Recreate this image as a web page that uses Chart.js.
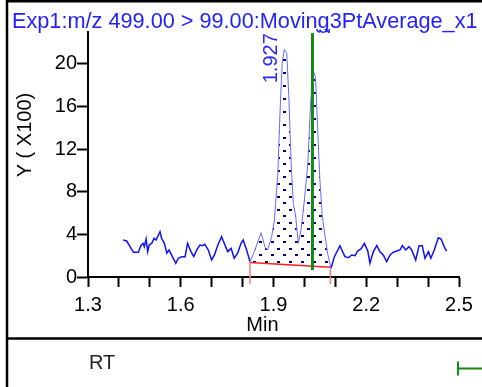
<!DOCTYPE html>
<html>
<head>
<meta charset="utf-8">
<script src="https://cdn.jsdelivr.net/npm/chart.js@4.4.0/dist/chart.umd.min.js"></script>
<style>
  html, body { margin: 0; padding: 0; background: #fff; }
  #wrap { position: relative; width: 482px; height: 387px; overflow: hidden; }
  canvas { display: block; }
</style>
</head>
<body>
<div id="wrap"><canvas id="chart" width="482" height="387"></canvas></div>
<script>
const chartTitle = 'Exp1:m/z 499.00 > 99.00:Moving3PtAverage_x1';
const xTitle = 'Min';
const yTitle = 'Y ( X100)';
const panelLabel = 'RT';

// retention time (min)
const times = [1.414, 1.425, 1.436, 1.447, 1.463, 1.471, 1.478, 1.482, 1.488, 1.493,
  1.498, 1.506, 1.514, 1.520, 1.533, 1.538, 1.547, 1.555, 1.562, 1.573,
  1.584, 1.592, 1.603, 1.614, 1.622, 1.633, 1.642, 1.652, 1.662, 1.670,
  1.678, 1.689, 1.700, 1.709, 1.720, 1.732, 1.743, 1.752, 1.763, 1.773,
  1.784, 1.795, 1.802, 1.813, 1.824, 1.840, 1.860, 1.872, 1.881, 1.894,
  1.903, 1.914, 1.921, 1.928, 1.935, 1.943, 1.950, 1.957, 1.964, 1.972,
  1.980, 1.989, 2.000, 2.011, 2.020, 2.029, 2.036, 2.043, 2.050, 2.058,
  2.067, 2.075, 2.086, 2.097, 2.115, 2.121, 2.131, 2.142, 2.153, 2.164,
  2.172, 2.183, 2.194, 2.205, 2.212, 2.223, 2.234, 2.244, 2.255, 2.266,
  2.277, 2.287, 2.298, 2.309, 2.317, 2.328, 2.338, 2.347, 2.360, 2.371,
  2.381, 2.390, 2.401, 2.409, 2.420, 2.433, 2.442, 2.452, 2.460];
// intensity (x100)
const intensity = [3.47, 3.38, 2.85, 2.32, 2.32, 2.94, 3.16, 2.85, 3.57, 2.38,
  3.00, 3.16, 3.63, 3.47, 4.25, 3.63, 3.16, 2.23, 2.54, 1.91,
  1.29, 1.76, 1.91, 1.91, 3.16, 2.38, 1.91, 2.54, 3.00, 2.94,
  3.07, 2.54, 1.60, 2.07, 3.00, 3.78, 3.00, 2.38, 2.69, 1.76,
  2.23, 3.16, 3.47, 2.54, 1.44, 2.54, 4.16, 2.85, 2.54, 3.78,
  5.35, 9.74, 15.37, 20.07, 21.38, 21.00, 16.62, 10.68, 6.92, 5.66,
  3.16, 4.41, 7.23, 10.68, 16.31, 19.28, 18.81, 13.80, 9.11, 5.66,
  3.78, 2.23, 0.82, 1.91, 2.94, 2.54, 1.91, 1.81, 2.07, 2.00,
  2.44, 2.63, 3.16, 2.44, 1.29, 2.38, 2.94, 2.38, 2.07, 1.44,
  2.07, 2.32, 2.44, 2.54, 2.94, 2.54, 2.85, 2.54, 1.60, 2.94,
  2.94, 1.76, 2.38, 1.76, 2.54, 3.69, 3.57, 2.85, 2.44];

// integrated peak: start/end times and baseline heights
const peakBounds = [1.824, 2.084];
const baselineLevels = [1.35, 0.92];
const peakDrop = -0.66;
const peakLabels = ['1.927', '2.029'];
const peakLabelTimes = [1.927, 2.029];

// RT marker
const markerTime = 2.026;
const markerSpan = [0.66, 22.9];

const xLabelTicks = [1.3, 1.6, 1.9, 2.2, 2.5];
const yLabelTicks = [0, 4, 8, 12, 16, 20];

const FONT = "'Liberation Sans', Arial, sans-serif";

const traceData = times.map((t, i) => ({x: t, y: intensity[i]}));
const peakData = traceData.filter(p => p.x >= peakBounds[0] - 1e-9 && p.x <= peakBounds[1] + 0.003);
const baselineData = peakBounds.map((t, i) => ({x: t, y: baselineLevels[i]}));
const inPeak = ctx => ctx.p0.parsed.x >= peakBounds[0] - 1e-9 && ctx.p1.parsed.x <= peakBounds[1] + 0.003;

function dotPattern() {
  const c = document.createElement('canvas');
  c.width = 12; c.height = 13;
  const g = c.getContext('2d');
  g.fillStyle = '#000080';
  g.fillRect(1, 1, 3, 2);
  g.fillRect(7, 7, 3, 2);
  return g.createPattern(c, 'repeat');
}

// frame, title strip and the RT panel underneath the plot
const framePlugin = {
  id: 'frame',
  beforeDraw(chart) {
    const g = chart.ctx;
    g.save();
    g.fillStyle = '#fff';
    g.fillRect(0, 0, chart.width, chart.height);
    g.restore();
  },
  afterDraw(chart) {
    const g = chart.ctx;
    g.save();
    g.fillStyle = '#1f1fff';
    g.font = '21.7px ' + FONT;
    g.textBaseline = 'alphabetic';
    g.fillText(chartTitle, 12, 28);

    g.strokeStyle = '#000';
    g.lineWidth = 2.5;
    g.beginPath();
    g.moveTo(7, 0); g.lineTo(7, chart.height);
    g.moveTo(6, 1.2); g.lineTo(chart.width, 1.2);
    g.moveTo(6, 338.5); g.lineTo(chart.width, 338.5);
    g.stroke();

    g.fillStyle = '#222';
    g.font = '20px ' + FONT;
    g.textBaseline = 'middle';
    g.fillText(panelLabel, 89, 363);
    g.strokeStyle = '#138a13';
    g.lineWidth = 2;
    g.beginPath();
    g.moveTo(458, 361.5); g.lineTo(458, 375.5);
    g.moveTo(458, 368.5); g.lineTo(chart.width, 368.5);
    g.stroke();
    g.restore();
  }
};

const peakLabelPlugin = {
  id: 'peakLabels',
  afterDatasetsDraw(chart) {
    const g = chart.ctx;
    const xs = chart.scales.x, ys = chart.scales.y;
    g.save();
    g.beginPath();
    g.rect(0, 29, chart.width, chart.chartArea.bottom - 29);
    g.clip();
    g.fillStyle = '#2a2aff';
    g.font = '20px ' + FONT;
    g.textAlign = 'left';
    g.textBaseline = 'alphabetic';
    // first peak label beside the apex
    const apex = Math.max(...intensity);
    let px = xs.getPixelForValue(peakLabelTimes[0]) - 5;
    let py = ys.getPixelForValue(apex) + 34;
    g.save(); g.translate(px, py); g.rotate(-Math.PI / 2); g.fillText(peakLabels[0], 0, 0); g.restore();
    // second label mostly runs off the top of the plot
    px = xs.getPixelForValue(peakLabelTimes[1]) + 17;
    py = chart.chartArea.top + 2;
    g.save(); g.translate(px, py); g.rotate(-Math.PI / 2); g.fillText(peakLabels[1], 0, 0); g.restore();
    g.restore();
  }
};

new Chart(document.getElementById('chart'), {
  type: 'line',
  data: {
    datasets: [
      {
        // RT marker
        data: [{x: markerTime, y: markerSpan[0]}, {x: markerTime, y: markerSpan[1]}],
        borderColor: '#138a13',
        borderWidth: 3,
        pointRadius: 0
      },
      {
        data: [{x: peakBounds[0], y: baselineLevels[0]}, {x: peakBounds[0], y: peakDrop}],
        borderColor: '#ff7a7a',
        borderWidth: 1.5,
        pointRadius: 0,
        clip: false
      },
      {
        data: [{x: peakBounds[1], y: baselineLevels[1]}, {x: peakBounds[1], y: peakDrop}],
        borderColor: '#ff7a7a',
        borderWidth: 1.5,
        pointRadius: 0,
        clip: false
      },
      {
        data: traceData,
        borderColor: '#1010ff',
        borderWidth: 1.5,
        pointRadius: 0,
        tension: 0,
        segment: {
          borderColor: ctx => inPeak(ctx) ? '#6a6aff' : undefined,
          borderWidth: ctx => inPeak(ctx) ? 1 : undefined
        }
      },
      {
        data: baselineData,
        borderColor: '#ff2020',
        borderWidth: 1.5,
        pointRadius: 0
      },
      {
        data: peakData,
        borderWidth: 0,
        borderColor: 'rgba(0,0,0,0)',
        pointRadius: 0,
        fill: {target: 4},
        backgroundColor: dotPattern()
      }
    ]
  },
  options: {
    responsive: false,
    animation: false,
    devicePixelRatio: 1,
    layout: {padding: {left: 12, right: 23, top: 32, bottom: 50}},
    plugins: {
      legend: {display: false},
      tooltip: {enabled: false}
    },
    scales: {
      x: {
        type: 'linear',
        min: 1.3,
        max: 2.5,
        afterFit: s => { s.height = 60; },
        border: {display: true, color: '#000', width: 2},
        grid: {display: true, drawOnChartArea: false, drawTicks: true, tickLength: 10, tickWidth: 2, tickColor: '#000'},
        ticks: {
          stepSize: 0.1,
          includeBounds: false,
          maxRotation: 0,
          autoSkip: false,
          padding: 6,
          color: '#000',
          font: {family: FONT, size: 20},
          callback: v => xLabelTicks.some(t => Math.abs(t - v) < 1e-6) ? v.toFixed(1) : ''
        },
        title: {display: true, text: xTitle + '    ', color: '#000', font: {family: FONT, size: 20}, padding: {top: 0, bottom: 0}}
      },
      y: {
        type: 'linear',
        min: 0,
        max: 23,
        afterFit: s => { s.width = 76; },
        border: {display: true, color: '#000', width: 2},
        grid: {display: true, drawOnChartArea: false, drawTicks: true, tickLength: 11, tickWidth: 2, tickColor: '#000'},
        ticks: {
          stepSize: 4,
          includeBounds: false,
          padding: 0,
          color: '#000',
          font: {family: FONT, size: 20},
          callback: v => yLabelTicks.includes(v) ? String(v) : ''
        },
        title: {display: true, text: '       ' + yTitle, color: '#000', font: {family: FONT, size: 20}, padding: {top: 1, bottom: 0}}
      }
    }
  },
  plugins: [framePlugin, peakLabelPlugin]
});
</script>
</body>
</html>
